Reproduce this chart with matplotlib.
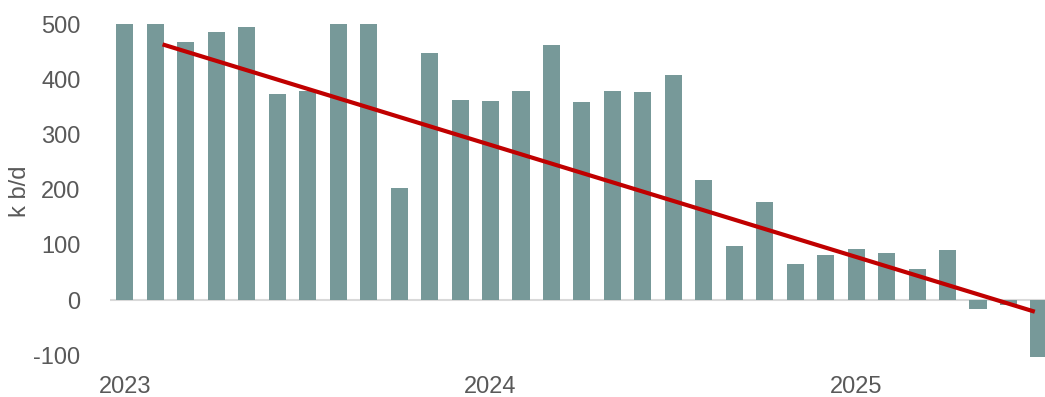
import matplotlib.pyplot as plt
import numpy as np

# monthly values, Jan 2023 .. Jul 2025 (k b/d); first bars run off the top of the axis
months = np.arange(31)
values = [530, 530, 467, 486, 494, 373, 379, 540, 520, 203,
          447, 362, 360, 379, 462, 359, 379, 377, 408, 217,
          98, 178, 65, 81, 93, 85, 57, 91, -16, -9, -110]

# linear trend drawn over the bars (month index, value)
trend_x = [1.3, 29.8]
trend_y = [462, -20]

year_pos = [0, 12, 24]
year_labels = ["2023", "2024", "2025"]
y_ticks = [-100, 0, 100, 200, 300, 400, 500]

BAR_COLOR = "#779999"
TREND_COLOR = "#C00000"
TEXT_COLOR = "#595959"

plt.rcParams["font.family"] = ["Liberation Sans", "DejaVu Sans"]
plt.rcParams["axes.unicode_minus"] = False

fig = plt.figure(figsize=(10.45, 3.97), dpi=100)
ax = fig.add_axes([0.105, 0.0995, 0.895, 0.84])

ax.bar(months, values, width=0.56, color=BAR_COLOR, zorder=2)
ax.axhline(0, color="#D9D9D9", linewidth=1.5, zorder=1)
ax.plot(trend_x, trend_y, color=TREND_COLOR, linewidth=3, zorder=3)

ax.set_xlim(-0.5, 30.2)
ax.set_ylim(-104, 500)
ax.set_yticks(y_ticks)
ax.set_xticks(year_pos)
ax.set_xticklabels(year_labels)

for side in ["top", "right", "left", "bottom"]:
    ax.spines[side].set_visible(False)

ax.tick_params(axis="y", length=0, pad=21, labelsize=17, labelcolor=TEXT_COLOR)
ax.tick_params(axis="x", length=0, pad=13, labelsize=17, labelcolor=TEXT_COLOR)
ax.set_ylabel("k b/d", fontsize=17, color=TEXT_COLOR, labelpad=2)

fig.savefig("out.png", dpi=100)
